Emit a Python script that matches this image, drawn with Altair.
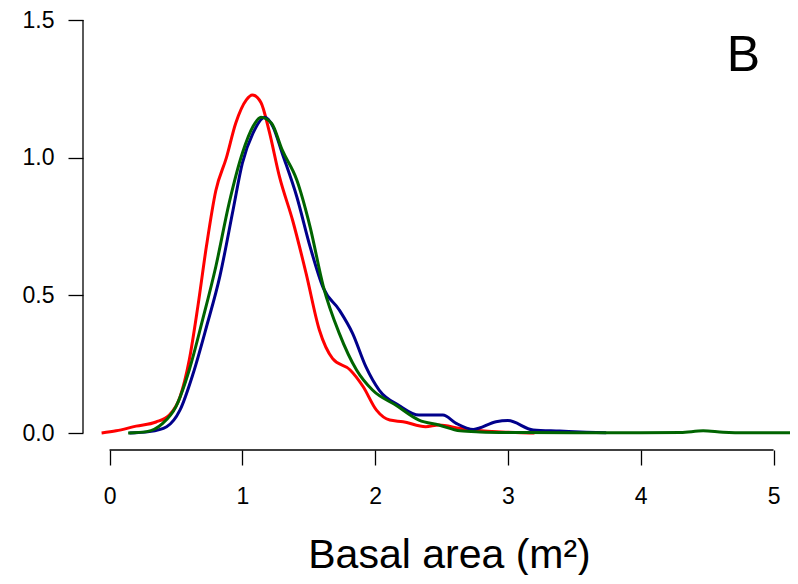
import altair as alt
import pandas as pd

# Density curves
red_x = [-0.06, 0.05, 0.20, 0.35, 0.45, 0.53, 0.60, 0.665, 0.73, 0.80, 0.88, 0.95, 1.03, 1.075, 1.14, 1.20, 1.28, 1.38, 1.48, 1.58, 1.68, 1.81, 1.91, 2.01, 2.11, 2.21, 2.38, 2.48, 2.64, 2.80, 2.95, 3.10, 3.20]
red_y = [0.0, 0.008, 0.025, 0.04, 0.065, 0.13, 0.265, 0.46, 0.68, 0.88, 1.00, 1.125, 1.21, 1.228, 1.20, 1.10, 0.93, 0.77, 0.58, 0.374, 0.27, 0.23, 0.168, 0.083, 0.047, 0.041, 0.023, 0.029, 0.017, 0.008, 0.004, 0.001, 0.0]

blue_x = [0.15, 0.30, 0.43, 0.53, 0.63, 0.73, 0.83, 0.93, 1.00, 1.08, 1.17, 1.23, 1.30, 1.41, 1.51, 1.61, 1.73, 1.83, 1.93, 2.03, 2.18, 2.33, 2.51, 2.61, 2.74, 2.91, 3.00, 3.19, 3.39, 3.59, 3.74]
blue_y = [0.0, 0.005, 0.023, 0.083, 0.217, 0.386, 0.568, 0.81, 0.98, 1.089, 1.147, 1.113, 1.016, 0.858, 0.677, 0.526, 0.447, 0.362, 0.241, 0.156, 0.10, 0.065, 0.065, 0.035, 0.013, 0.041, 0.045, 0.011, 0.007, 0.003, 0.001]

green_x = [0.14, 0.28, 0.40, 0.50, 0.60, 0.70, 0.80, 0.90, 1.00, 1.08, 1.14, 1.22, 1.30, 1.41, 1.51, 1.61, 1.73, 1.86, 1.98, 2.16, 2.33, 2.48, 2.64, 2.79, 3.00, 3.50, 4.00, 4.30, 4.47, 4.62, 4.80, 5.17]
green_y = [0.0, 0.005, 0.035, 0.096, 0.229, 0.41, 0.604, 0.834, 1.016, 1.113, 1.147, 1.125, 1.028, 0.919, 0.749, 0.532, 0.362, 0.229, 0.156, 0.10, 0.047, 0.029, 0.008, 0.004, 0.002, 0.001, 0.001, 0.002, 0.008, 0.003, 0.001, 0.001]

series_names = ["red", "blue", "green"]
series_colors = ["#FF0000", "#00008B", "#006400"]

x_ticks = [0, 1, 2, 3, 4, 5]
y_ticks = [0.0, 0.5, 1.0, 1.5]

rows = []
for name, xs, ys in zip(series_names, [red_x, blue_x, green_x], [red_y, blue_y, green_y]):
    for i, (xv, yv) in enumerate(zip(xs, ys)):
        rows.append({"series": name, "x": xv, "y": yv, "order": i})
df = pd.DataFrame(rows)

W, H = 707, 442
FONT = "Liberation Sans"

x_scale = alt.Scale(domain=[-0.2, 5.124], nice=False, zero=False)
y_scale = alt.Scale(domain=[-0.0617, 1.5436], nice=False, zero=False)

lines = alt.Chart(df).mark_line(strokeWidth=3, clip=True, interpolate="monotone").encode(
    x=alt.X("x:Q", scale=x_scale, axis=alt.Axis(
        values=x_ticks, format="d", domain=False, grid=False, tickSize=15, tickWidth=1.3,
        tickColor="black", labelFontSize=23, labelFont=FONT, labelColor="black", labelPadding=20,
        title="Basal area (m²)", titleFont=FONT, titleFontSize=41, titleFontWeight="normal",
        titleColor="black", titleX=366, titleY=117, titleBaseline="alphabetic", titleAlign="center")),
    y=alt.Y("y:Q", scale=y_scale, axis=alt.Axis(
        values=y_ticks, format=".1f", domain=False, grid=False, tickSize=15, tickWidth=1.3,
        tickColor="black", labelFontSize=23, labelFont=FONT, labelColor="black", labelPadding=14,
        title=None)),
    color=alt.Color("series:N", scale=alt.Scale(domain=series_names, range=series_colors), legend=None),
    order="order:Q",
    detail="series:N",
)

x_line = alt.Chart().mark_rule(color="black", strokeWidth=1.3).encode(
    x=alt.datum(0, scale=x_scale), x2=alt.datum(5), y=alt.value(H))
y_line = alt.Chart().mark_rule(color="black", strokeWidth=1.3).encode(
    y=alt.datum(0.0, scale=y_scale), y2=alt.datum(1.5), x=alt.value(0))

chart = alt.layer(lines, x_line, y_line).properties(
    width=W, height=H,
    autosize=alt.AutoSizeParams(type="none"),
    padding={"left": 75, "top": 0, "right": 0, "bottom": 125},
    background="white",
    title=alt.TitleParams("B", anchor="end", frame="group", font=FONT, fontSize=50,
                          fontWeight="normal", color="black", dx=-30, dy=77),
).configure_view(stroke=None)

chart.save("out.html", embed_options={"renderer": "svg", "actions": False})
